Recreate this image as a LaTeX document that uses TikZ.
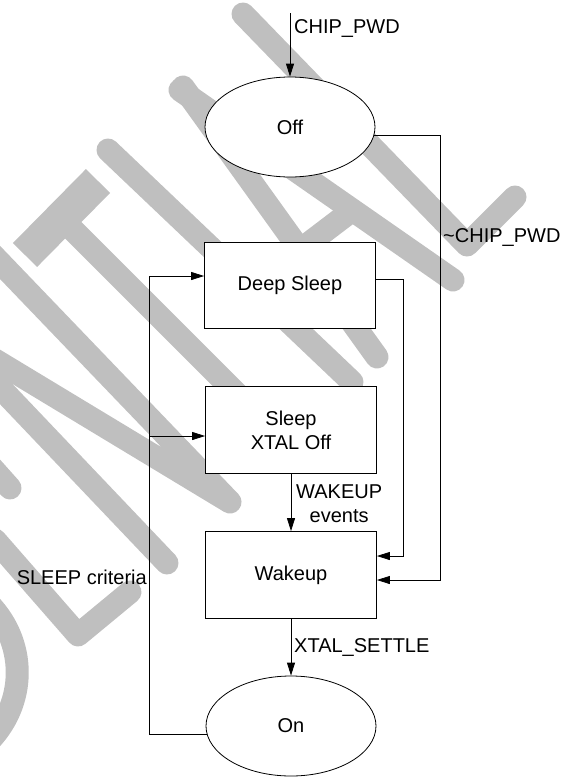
\documentclass[tikz,border=0pt]{standalone}
\usepackage{fontspec}
\setmainfont{Liberation Sans}
\usetikzlibrary{arrows.meta,positioning,calc,shapes.geometric}

\begin{document}
\begin{tikzpicture}[x=1pt,y=-1pt,>={Triangle[length=13pt,width=8pt]},
  font=\fontsize{20}{24}\selectfont,
  st/.style={draw,fill=white,line width=0.8pt,minimum width=171pt,minimum height=87pt,inner sep=0pt,align=center},
  el/.style={ellipse,draw,fill=white,line width=0.8pt,minimum width=170pt,minimum height=100pt,inner sep=0pt},
  ar/.style={->,line width=0.8pt},lab/.style={inner sep=0pt,align=center},
  wm/.style={black!25,line width=23pt,line cap=round,line join=round}]
\useasboundingbox (0,0) rectangle (572,777);
\begin{scope}
\clip (0,0) rectangle (572,777);
\draw[wm] (243,14)--(467,245)--(515,197);
\draw[wm] (180,90)--(453,280); \draw[wm] (183,87)--(377,357); \draw[wm] (300,250)--(350,212);
\draw[wm] (108,150)--(352,382);
\draw[wm,line width=34pt,line cap=butt] (25,255)--(98,181); \draw[wm] (61,218)--(290,447);
\draw[wm] (-10,252)--(230,502)--(-10,357); \draw[wm] (-10,377)--(167,563);
\draw[wm] (-15,460)--(10,488); \draw[wm] (-5,540)--(78,635)--(130,592);
\draw[wm] (-15,600) .. controls (28,640) and (28,705) .. (-15,745);
\end{scope}
\node[el] (off) at (290,127) {Off};
\node[st,minimum height=86pt] (deep) at (290,285) {Deep Sleep};
\node[st] (sleep) at (291,430) {Sleep\\XTAL Off};
\node[st] (wake) at (291,575) {Wakeup};
\node[el] (on) at (291,726) {On};
\coordinate (top) at (290,13);
\coordinate (xr) at (440,0); \coordinate (xm) at (403,0); \coordinate (xl) at (149,0);
\coordinate (ds-out) at ([yshift=6pt]deep.east); \coordinate (ds-in) at ([yshift=9pt]deep.west);
\coordinate (sl-in) at ([yshift=-6pt]sleep.west);
\coordinate (wk-a) at ([yshift=19pt]wake.east); \coordinate (wk-b) at ([yshift=-5pt]wake.east);
\draw[ar] (top)--(off); \draw[ar] (sleep)--(wake); \draw[ar] (wake)--(on);
\draw[ar] (off.-6) -| (wk-b -| xr) -- (wk-b);
\draw[ar] (ds-out) -| (wk-a -| xm) -- (wk-a);
\draw[ar] (on.186) -- (on.186 -| xl) |- (ds-in);
\draw[ar] (sl-in -| xl) -- (sl-in);
\node[lab,anchor=west] at (294,29) {CHIP\_PWD};
\node[lab,anchor=west] at (443,237) {\textasciitilde CHIP\_PWD};
\node[lab,anchor=west] at (296,504) {WAKEUP\\events};
\node[lab,anchor=west] at (294,647) {XTAL\_SETTLE};
\node[lab,anchor=east] at (147,577) {SLEEP criteria};
\end{tikzpicture}
\end{document}
